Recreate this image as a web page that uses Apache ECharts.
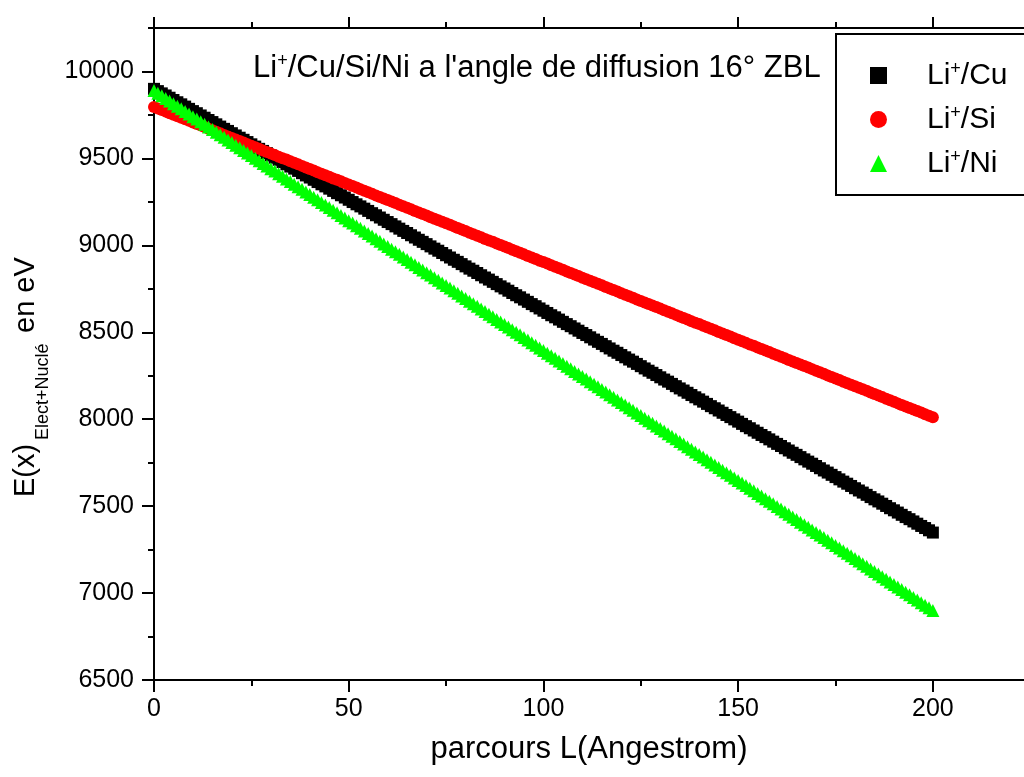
<!DOCTYPE html>
<html>
<head>
<meta charset="utf-8">
<script src="https://cdn.jsdelivr.net/npm/echarts@6/dist/echarts.min.js"></script>
<style>
html, body { margin: 0; padding: 0; background: #fff; }
#main { width: 1024px; height: 777px; }
</style>
</head>
<body>
<div id="main"></div>
<script>
var FONT = '"Liberation Sans", Arial, sans-serif';

// parcours L (Angstrom)
var pathL = [0,1,2,3,4,5,6,7,8,9,10,11,12,13,14,15,16,17,18,19,20,21,22,23,24,25,26,27,28,29,30,
  31,32,33,34,35,36,37,38,39,40,41,42,43,44,45,46,47,48,49,50,51,52,53,54,55,56,57,58,59,60,
  61,62,63,64,65,66,67,68,69,70,71,72,73,74,75,76,77,78,79,80,81,82,83,84,85,86,87,88,89,90,
  91,92,93,94,95,96,97,98,99,100,101,102,103,104,105,106,107,108,109,110,111,112,113,114,115,116,117,118,119,120,
  121,122,123,124,125,126,127,128,129,130,131,132,133,134,135,136,137,138,139,140,141,142,143,144,145,146,147,148,149,150,
  151,152,153,154,155,156,157,158,159,160,161,162,163,164,165,166,167,168,169,170,171,172,173,174,175,176,177,178,179,180,
  181,182,183,184,185,186,187,188,189,190,191,192,193,194,195,196,197,198,199,200];

// E(x) en eV
var cuE = [9900,9887,9874,9862,9849,9836,9823,9811,9798,9785,9772,9760,9747,9734,9721,9709,9696,9683,9670,9658,9645,
  9632,9619,9607,9594,9581,9568,9555,9543,9530,9517,9504,9492,9479,9466,9453,9441,9428,9415,9402,9390,
  9377,9364,9351,9339,9326,9313,9300,9288,9275,9262,9249,9236,9224,9211,9198,9185,9173,9160,9147,9134,
  9122,9109,9096,9083,9071,9058,9045,9032,9020,9007,8994,8981,8969,8956,8943,8930,8917,8905,8892,8879,
  8866,8854,8841,8828,8815,8803,8790,8777,8764,8752,8739,8726,8713,8701,8688,8675,8662,8650,8637,8624,
  8611,8598,8586,8573,8560,8547,8535,8522,8509,8496,8484,8471,8458,8445,8433,8420,8407,8394,8382,8369,
  8356,8343,8331,8318,8305,8292,8279,8267,8254,8241,8228,8216,8203,8190,8177,8165,8152,8139,8126,8114,
  8101,8088,8075,8063,8050,8037,8024,8012,7999,7986,7973,7960,7948,7935,7922,7909,7897,7884,7871,7858,
  7846,7833,7820,7807,7795,7782,7769,7756,7744,7731,7718,7705,7693,7680,7667,7654,7641,7629,7616,7603,
  7590,7578,7565,7552,7539,7527,7514,7501,7488,7476,7463,7450,7437,7425,7412,7399,7386,7374,7361,7348];
var siE = [9796,9787,9778,9769,9760,9751,9742,9734,9725,9716,9707,9698,9689,9680,9671,9662,9653,9644,9635,9626,9618,
  9609,9600,9591,9582,9573,9564,9555,9546,9537,9528,9519,9510,9501,9493,9484,9475,9466,9457,9448,9439,
  9430,9421,9412,9403,9394,9385,9377,9368,9359,9350,9341,9332,9323,9314,9305,9296,9287,9278,9269,9261,
  9252,9243,9234,9225,9216,9207,9198,9189,9180,9171,9162,9153,9144,9136,9127,9118,9109,9100,9091,9082,
  9073,9064,9055,9046,9037,9028,9020,9011,9002,8993,8984,8975,8966,8957,8948,8939,8930,8921,8912,8904,
  8895,8886,8877,8868,8859,8850,8841,8832,8823,8814,8805,8796,8787,8779,8770,8761,8752,8743,8734,8725,
  8716,8707,8698,8689,8680,8671,8663,8654,8645,8636,8627,8618,8609,8600,8591,8582,8573,8564,8555,8547,
  8538,8529,8520,8511,8502,8493,8484,8475,8466,8457,8448,8439,8430,8422,8413,8404,8395,8386,8377,8368,
  8359,8350,8341,8332,8323,8314,8306,8297,8288,8279,8270,8261,8252,8243,8234,8225,8216,8207,8198,8190,
  8181,8172,8163,8154,8145,8136,8127,8118,8109,8100,8091,8082,8073,8065,8056,8047,8038,8029,8020,8011];
var niE = [9890,9875,9860,9845,9830,9815,9800,9785,9770,9755,9740,9726,9711,9696,9681,9666,9651,9636,9621,9606,9591,
  9576,9561,9546,9531,9516,9501,9486,9471,9456,9441,9427,9412,9397,9382,9367,9352,9337,9322,9307,9292,
  9277,9262,9247,9232,9217,9202,9187,9172,9157,9142,9128,9113,9098,9083,9068,9053,9038,9023,9008,8993,
  8978,8963,8948,8933,8918,8903,8888,8873,8858,8843,8829,8814,8799,8784,8769,8754,8739,8724,8709,8694,
  8679,8664,8649,8634,8619,8604,8589,8574,8559,8544,8530,8515,8500,8485,8470,8455,8440,8425,8410,8395,
  8380,8365,8350,8335,8320,8305,8290,8275,8260,8245,8231,8216,8201,8186,8171,8156,8141,8126,8111,8096,
  8081,8066,8051,8036,8021,8006,7991,7976,7961,7946,7932,7917,7902,7887,7872,7857,7842,7827,7812,7797,
  7782,7767,7752,7737,7722,7707,7692,7677,7662,7647,7633,7618,7603,7588,7573,7558,7543,7528,7513,7498,
  7483,7468,7453,7438,7423,7408,7393,7378,7363,7348,7334,7319,7304,7289,7274,7259,7244,7229,7214,7199,
  7184,7169,7154,7139,7124,7109,7094,7079,7064,7049,7035,7020,7005,6990,6975,6960,6945,6930,6915,6900];

var seriesNames = ['Li+/Cu', 'Li+/Si', 'Li+/Ni'];

var xTicks = [0, 50, 100, 150, 200];
var xMinor = [25, 75, 125, 175];
var yTicks = [6500, 7000, 7500, 8000, 8500, 9000, 9500, 10000];
var yMinor = [6750, 7250, 7750, 8250, 8750, 9250, 9750, 10250];

// visible part of the frame ends at the right edge of the picture
var X_MAX = 223.4;

function pairs(ys) {
  return pathL.map(function (x, i) { return [x, ys[i]]; });
}

var axisLine = { show: true, lineStyle: { color: '#000', width: 2 } };

function xAx(pos, ticks, len, labels, line) {
  return {
    type: 'value', position: pos, min: 0, max: X_MAX,
    axisLine: line ? axisLine : { show: false },
    axisTick: { show: true, customValues: ticks, length: len, lineStyle: { color: '#000', width: 2 } },
    axisLabel: labels ? { show: true, customValues: ticks, fontSize: 25, fontFamily: FONT, color: '#000', margin: 17 } : { show: false },
    splitLine: { show: false }
  };
}
function yAx(pos, ticks, len, labels, line, inside) {
  return {
    type: 'value', position: pos, min: 6500, max: 10250,
    axisLine: line ? axisLine : { show: false },
    axisTick: { show: true, inside: !!inside, customValues: ticks, length: len, lineStyle: { color: '#000', width: 2 } },
    axisLabel: labels ? {
      show: true, customValues: ticks, fontSize: 25, fontFamily: FONT, color: '#000', margin: 20,
      formatter: function (v) { return String(v); }
    } : { show: false },
    splitLine: { show: false }
  };
}

var xMain = xAx('bottom', xTicks, 12, true, true);
xMain.name = 'parcours L(Angestrom)';
xMain.nameLocation = 'middle';
xMain.nameGap = 54;
xMain.nameTextStyle = { fontSize: 31, fontFamily: FONT, color: '#000' };

var supStyle = { fontSize: 18, fontFamily: FONT, color: '#000', verticalAlign: 'top', lineHeight: 10 };

var myChart = echarts.init(document.getElementById('main'), null, { renderer: 'canvas' });
var option = {
  animation: false,
  backgroundColor: '#fff',
  title: {
    text: 'Li{sup|+}/Cu/Si/Ni a l\'angle de diffusion 16° ZBL',
    left: 253, top: 52, padding: 0,
    textStyle: {
      fontSize: 31, fontWeight: 'normal', fontFamily: FONT, color: '#000', lineHeight: 32,
      rich: { sup: supStyle }
    }
  },
  grid: { left: 154, right: 0, top: 28, bottom: 97, containLabel: false },
  xAxis: [
    xMain,
    xAx('bottom', xMinor, 6, false, false),
    xAx('top', xTicks, 11, false, true),
    xAx('top', xMinor, 6, false, false)
  ],
  yAxis: [
    yAx('left', yTicks, 12, true, true),
    yAx('left', yMinor, 6, false, false),
    yAx('right', yTicks, 6, false, false, true)
  ],
  legend: {
    orient: 'vertical',
    left: 836, top: 34,
    padding: [26, 60, 16, 34],
    borderColor: '#000', borderWidth: 2,
    itemWidth: 17, itemHeight: 17, itemGap: 13,
    data: seriesNames,
    formatter: function (name) { return name.replace('+', '{sup|+}'); },
    textStyle: {
      fontSize: 30, fontFamily: FONT, color: '#000', lineHeight: 31,
      padding: [0, 0, 0, 35],
      rich: { sup: supStyle }
    }
  },
  graphic: [{
    type: 'group', x: 0, y: 497, rotation: Math.PI / 2,
    children: [
      { type: 'text', x: 0, y: 26, style: { text: 'E(x)', font: '29px ' + FONT, fill: '#000', align: 'left', verticalAlign: 'middle' } },
      { type: 'text', x: 57, y: 43, style: { text: 'Elect+Nuclé', font: '18px ' + FONT, fill: '#000', align: 'left', verticalAlign: 'middle' } },
      { type: 'text', x: 164, y: 26, style: { text: 'en eV', font: '29px ' + FONT, fill: '#000', align: 'left', verticalAlign: 'middle' } }
    ]
  }],
  series: [
    { name: seriesNames[0], type: 'scatter', symbol: 'rect', symbolSize: 12, data: pairs(cuE), itemStyle: { color: '#000000', opacity: 1 } },
    { name: seriesNames[1], type: 'scatter', symbol: 'circle', symbolSize: 12, data: pairs(siE), itemStyle: { color: '#ff0000', opacity: 1 } },
    { name: seriesNames[2], type: 'scatter', symbol: 'triangle', symbolSize: 13, data: pairs(niE), itemStyle: { color: '#00ff00', opacity: 1 } }
  ]
};
myChart.setOption(option);
window.onresize = myChart.resize;
</script>
</body>
</html>
